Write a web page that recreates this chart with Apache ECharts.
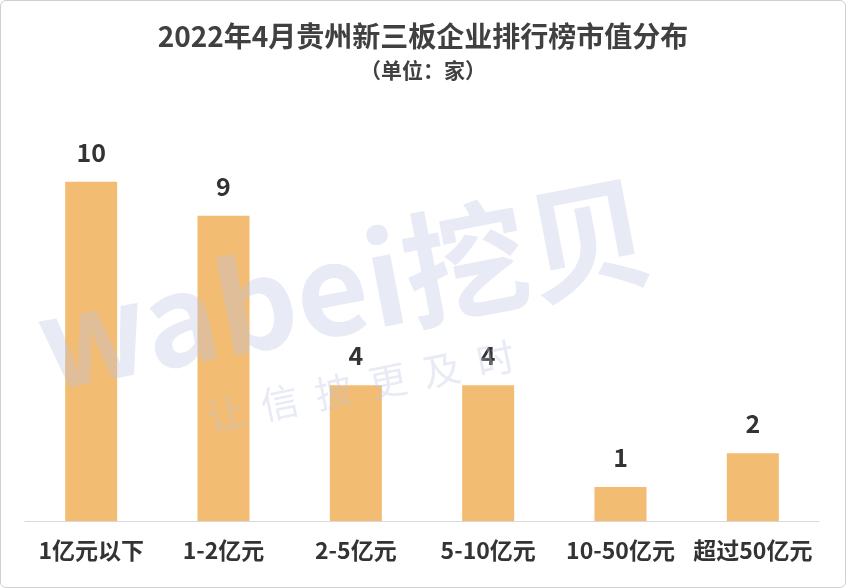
<!DOCTYPE html>
<html><head><meta charset="utf-8">
<script src="https://cdn.jsdelivr.net/npm/echarts@6/dist/echarts.min.js"></script>
<style>html,body{margin:0;padding:0;background:#fff}
#c{width:844px;height:586px;border:1px solid #d0d0d0;border-radius:6px;}</style>
</head><body><div id="c"></div>
<script>
const categories=['1亿元以下','1-2亿元','2-5亿元','5-10亿元','10-50亿元','超过50亿元'];
const values=[10,9,4,4,1,2];
const chart=echarts.init(document.getElementById('c'));
const F='"Noto Sans CJK SC","Microsoft YaHei",sans-serif';
chart.setOption({
 animation:false,
 title:{text:'2022年4月贵州新三板企业排行榜市值分布',subtext:'（单位：家）',left:'center',top:16,itemGap:10,
  textStyle:{fontFamily:F,fontSize:28,fontWeight:'bold',color:'#404040'},
  subtextStyle:{fontFamily:F,fontSize:21,fontWeight:'bold',color:'#404040'}},
 graphic:[
  {type:'text',x:50,y:405,rotation:0.19,z:100,silent:true,style:{text:'wabei挖贝',font:'bold 125px '+F,fill:'rgba(190,196,225,0.35)',textVerticalAlign:'bottom'}},
  {type:'text',x:210,y:435,rotation:0.2,z:100,silent:true,style:{text:'让  信  披  更  及  时',font:'38px '+F,fill:'rgba(190,196,225,0.35)',textVerticalAlign:'bottom'}}
 ],
 grid:{left:24,right:26,top:113,bottom:66},
 xAxis:{type:'category',data:categories,axisTick:{show:false},
  axisLine:{lineStyle:{color:'#d9d9d9'}},
  axisLabel:{interval:0,fontFamily:F,fontSize:23,fontWeight:'bold',color:'#333',margin:18}},
 yAxis:{type:'value',min:0,max:12,show:false,splitLine:{show:false}},
 series:[{type:'bar',data:values,barWidth:52,itemStyle:{color:'#F2BC72'},
  label:{show:true,position:'top',distance:17,fontFamily:F,fontSize:25,fontWeight:'bold',color:'#333'}}]
});
</script></body></html>
